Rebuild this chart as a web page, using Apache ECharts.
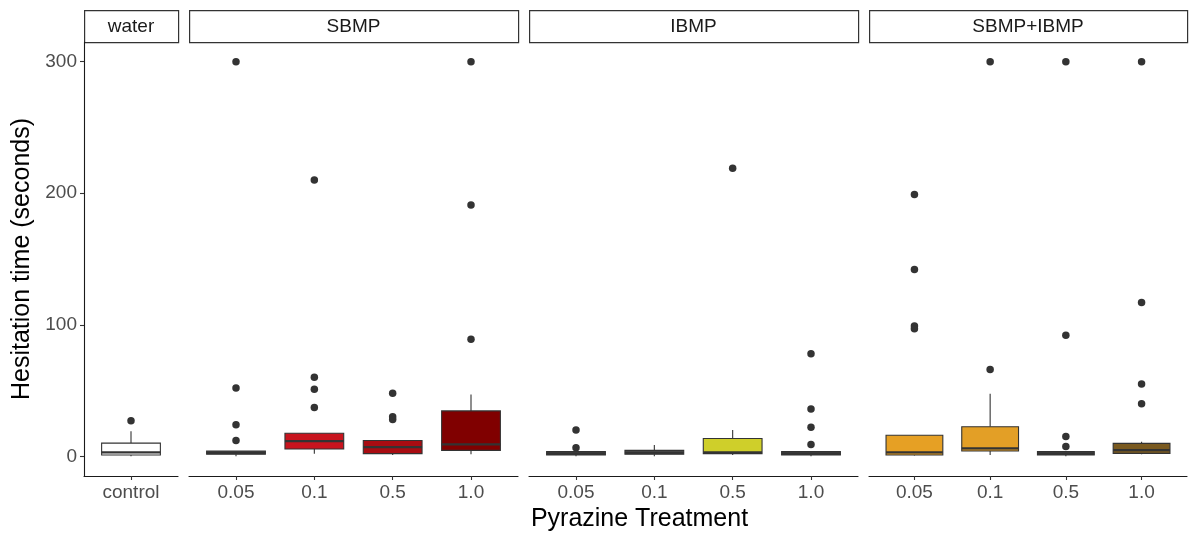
<!DOCTYPE html>
<html>
<head>
<meta charset="utf-8">
<script src="https://cdn.jsdelivr.net/npm/echarts@6/dist/echarts.min.js"></script>
<style>
html,body{margin:0;padding:0;background:#fff;}
#chart{width:1197px;height:533px;}
</style>
</head>
<body>
<div id="chart"></div>
<script>
// ---------- DATA ----------
const facetNames = ['water', 'SBMP', 'IBMP', 'SBMP+IBMP'];
const waterCats = ['control'];
const sbmpCats = ['0.05', '0.1', '0.5', '1.0'];
const ibmpCats = ['0.05', '0.1', '0.5', '1.0'];
const mixCats = ['0.05', '0.1', '0.5', '1.0'];
const yTicks = [0, 100, 200, 300];

// box stats: [lower whisker, Q1, median, Q3, upper whisker]
const waterBoxes = [[0, 1, 3, 10, 19]];
const sbmpBoxes = [
  [0, 1.5, 2.5, 4, 4],
  [2, 5.5, 11.5, 17.5, 17.5],
  [1, 2, 7, 12, 12],
  [1.5, 4.5, 9, 34.5, 47]
];
const ibmpBoxes = [
  [0, 1, 2, 3.5, 4],
  [0, 1.5, 2.5, 4.5, 8.5],
  [1, 2, 3, 13.5, 20],
  [0, 1, 2, 3.5, 4]
];
const mixBoxes = [
  [0.5, 1, 3, 16, 16],
  [1, 4, 6, 22.5, 47.5],
  [0, 1, 2, 3.5, 4],
  [1.5, 2.2, 4.7, 9.8, 11]
];

// outliers per category
const waterOutliers = [[27]];
const sbmpOutliers = [[300, 52, 24, 12], [210, 60, 51, 37], [48, 30, 28], [300, 191, 89]];
const ibmpOutliers = [[20, 6.5], [], [219], [78, 36, 22, 9]];
const mixOutliers = [[199, 142, 99, 97], [300, 66], [300, 92, 15, 7.5], [300, 117, 55, 40]];

// fill colours
const waterFills = ['#ffffff'];
const sbmpFills = ['#444444', '#c8141e', '#a80c12', '#800000'];
const ibmpFills = ['#444444', '#444444', '#cfcf2a', '#444444'];
const mixFills = ['#e6a024', '#e39f26', '#444444', '#7a5a20'];

// ---------- LAYOUT ----------
const panels = [
  { name: facetNames[0], cats: waterCats, boxes: waterBoxes, outs: waterOutliers, fills: waterFills, left: 84, right: 178 },
  { name: facetNames[1], cats: sbmpCats, boxes: sbmpBoxes, outs: sbmpOutliers, fills: sbmpFills, left: 189, right: 518 },
  { name: facetNames[2], cats: ibmpCats, boxes: ibmpBoxes, outs: ibmpOutliers, fills: ibmpFills, left: 529, right: 858 },
  { name: facetNames[3], cats: mixCats, boxes: mixBoxes, outs: mixOutliers, fills: mixFills, left: 869, right: 1187 }
];
const gridTop = 42, gridBottomY = 476;
const FONT = 'Liberation Sans, Arial, sans-serif';

const grids = [], xAxes = [], yAxes = [], series = [], graphics = [];

panels.forEach((p, gi) => {
  const n = p.cats.length;
  const pos = p.cats.map((c, i) => i + 1);
  grids.push({ left: p.left, width: p.right - p.left, top: gridTop, height: gridBottomY - gridTop, containLabel: false });
  xAxes.push({
    type: 'value', gridIndex: gi, min: 0.4, max: n + 0.6,
    axisLine: { show: true, onZero: false, lineStyle: { color: '#1a1a1a', width: 1.1 } },
    axisTick: { show: true, customValues: pos, length: 4, lineStyle: { color: '#333', width: 1.1 } },
    axisLabel: { customValues: pos, color: '#4d4d4d', fontSize: 19, fontFamily: FONT, margin: 7,
      formatter: v => p.cats[Math.round(v) - 1] },
    splitLine: { show: false }
  });
  const first = gi === 0;
  yAxes.push({
    type: 'value', gridIndex: gi, min: -15, max: 315,
    show: first,
    name: first ? 'Hesitation time (seconds)' : '',
    nameLocation: 'middle', nameGap: 49,
    nameTextStyle: { fontSize: 25, color: '#000', fontFamily: FONT },
    axisLine: { show: first, lineStyle: { color: '#1a1a1a', width: 1.1 } },
    axisTick: { show: first, customValues: yTicks, length: 4, lineStyle: { color: '#333', width: 1.1 } },
    axisLabel: { show: first, customValues: yTicks, color: '#4d4d4d', fontSize: 19, fontFamily: FONT, margin: 7 },
    splitLine: { show: false }
  });

  const boxData = p.boxes.map((b, i) => [i + 1].concat(b));
  const fills = p.fills;
  series.push({
    type: 'custom', xAxisIndex: gi, yAxisIndex: gi,
    data: boxData,
    encode: { x: 0, y: [1, 2, 3, 4, 5] },
    renderItem: function (params, api) {
      const x = api.value(0);
      const lo = api.coord([x, api.value(1)]);
      const q1 = api.coord([x, api.value(2)]);
      const md = api.coord([x, api.value(3)]);
      const q3 = api.coord([x, api.value(4)]);
      const hi = api.coord([x, api.value(5)]);
      const w = api.size([0.75, 0])[0];
      const xl = lo[0] - w / 2;
      const stroke = '#333333';
      return {
        type: 'group',
        children: [
          { type: 'line', shape: { x1: hi[0], y1: hi[1], x2: q3[0], y2: q3[1] }, style: { stroke: stroke, lineWidth: 1.1 } },
          { type: 'line', shape: { x1: q1[0], y1: q1[1], x2: lo[0], y2: lo[1] }, style: { stroke: stroke, lineWidth: 1.1 } },
          { type: 'rect', shape: { x: xl, y: q3[1], width: w, height: Math.max(q1[1] - q3[1], 0.5) },
            style: { fill: fills[params.dataIndex], stroke: stroke, lineWidth: 1.1 } },
          { type: 'line', shape: { x1: xl, y1: md[1], x2: xl + w, y2: md[1] }, style: { stroke: stroke, lineWidth: 2.2 } }
        ]
      };
    },
    z: 2
  });

  const outData = [];
  p.outs.forEach((arr, i) => arr.forEach(v => outData.push([i + 1, v])));
  series.push({
    type: 'scatter', xAxisIndex: gi, yAxisIndex: gi,
    data: outData, symbolSize: 7.5,
    itemStyle: { color: '#333333', opacity: 1 },
    z: 3
  });

  // facet strip
  graphics.push({
    type: 'rect', left: p.left, top: 10,
    shape: { width: p.right - p.left, height: 32 },
    style: { fill: '#ffffff', stroke: '#333333', lineWidth: 1.2 }
  });
  graphics.push({
    type: 'text', x: (p.left + p.right) / 2, y: 26.5,
    style: { text: p.name, fill: '#1a1a1a', fontSize: 19, fontFamily: FONT, align: 'center', verticalAlign: 'middle' }
  });
});

graphics.push({
  type: 'text', x: (84 + 1187) / 2 + 4, y: 519,
  style: { text: 'Pyrazine Treatment', fill: '#000', fontSize: 25, fontFamily: FONT, align: 'center', verticalAlign: 'middle' }
});

const chart = echarts.init(document.getElementById('chart'), null, { renderer: 'canvas' });
chart.setOption({
  animation: false,
  backgroundColor: '#ffffff',
  textStyle: { fontFamily: FONT },
  grid: grids,
  xAxis: xAxes,
  yAxis: yAxes,
  series: series,
  graphic: graphics
});
</script>
</body>
</html>
